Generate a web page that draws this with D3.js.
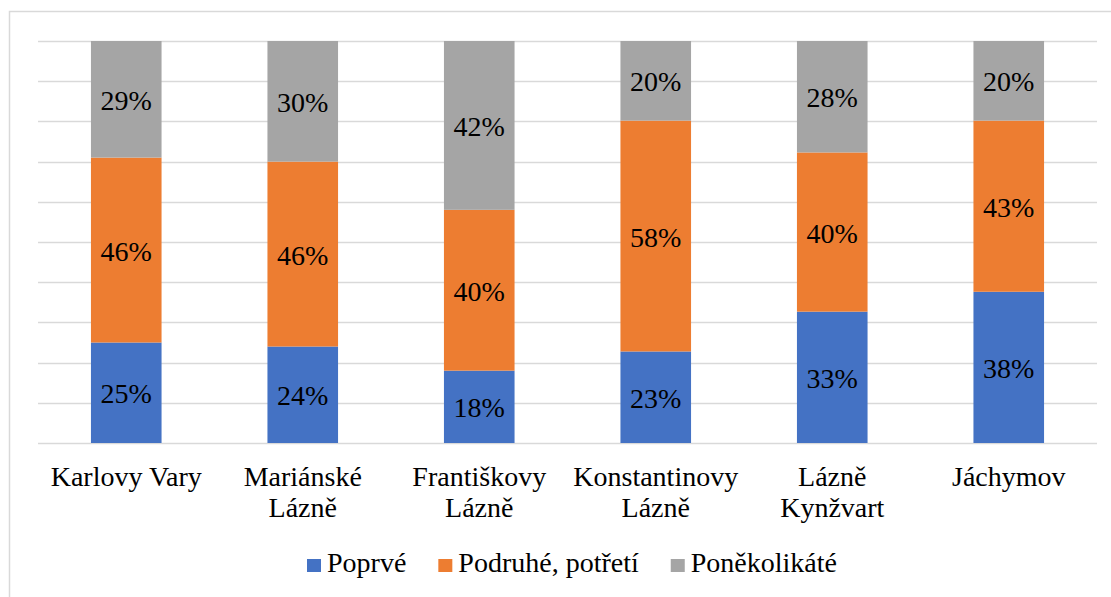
<!DOCTYPE html>
<html>
<head>
<meta charset="utf-8">
<script src="https://cdn.jsdelivr.net/npm/d3@7"></script>
</head>
<body style="margin:0">
<svg id="chart" width="1111" height="597"></svg>
<script>
const categories = ["Karlovy Vary", "Mariánské Lázně", "Františkovy Lázně", "Konstantinovy Lázně", "Lázně Kynžvart", "Jáchymov"];
const series_names = ["Poprvé", "Podruhé, potřetí", "Poněkolikáté"];
const poprve = [25, 24, 18, 23, 33, 38];
const podruhe = [46, 46, 40, 58, 40, 43];
const ponekolikate = [29, 30, 42, 20, 28, 20];
const y_ticks = [0, 0.1, 0.2, 0.3, 0.4, 0.5, 0.6, 0.7, 0.8, 0.9, 1];

const blue_color_code = "#4472C4";
const orange_color_code = "#ED7D31";
const gray_color_code = "#A5A5A5";
const grid_color_code = "#D9D9D9";
const font_name = "'Liberation Serif'";
const font_size = 28;

const svg = d3.select("#chart");
const plot = { left: 38, right: 1097, top: 41, bottom: 443 };

// table built from the named arrays
const rows = categories.map((c, i) => ({
    cat: c,
    "Poprvé": poprve[i],
    "Podruhé, potřetí": podruhe[i],
    "Poněkolikáté": ponekolikate[i],
}));
const stacked = d3.stack().keys(series_names).offset(d3.stackOffsetExpand)(rows);

const x = d3.scaleBand().domain(categories).range([plot.left, plot.right]).paddingInner(0.6).paddingOuter(0.3);
const y = d3.scaleLinear().domain([0, 1]).range([plot.bottom, plot.top]);
const color = d3.scaleOrdinal().domain(series_names).range([blue_color_code, orange_color_code, gray_color_code]);

// chart border
svg.append("rect")
    .attr("x", 9.5).attr("y", 11.5)
    .attr("width", 1110).attr("height", 600)
    .attr("fill", "none")
    .attr("stroke", grid_color_code)
    .attr("stroke-width", 1.5);

// gridlines
svg.append("g")
    .selectAll("line")
    .data(y_ticks)
    .join("line")
    .attr("x1", plot.left)
    .attr("x2", plot.right)
    .attr("y1", (d) => Math.round(y(d)) + 0.5)
    .attr("y2", (d) => Math.round(y(d)) + 0.5)
    .attr("stroke", grid_color_code)
    .attr("stroke-width", 1.5);

// bars
const layer = svg.append("g")
    .selectAll("g")
    .data(stacked)
    .join("g")
    .attr("fill", (d) => color(d.key));

layer.selectAll("rect")
    .data((d) => d)
    .join("rect")
    .attr("x", (d) => x(d.data.cat))
    .attr("y", (d) => y(d[1]))
    .attr("width", x.bandwidth())
    .attr("height", (d) => y(d[0]) - y(d[1]));

// data labels
layer.each(function (s) {
    d3.select(this)
        .selectAll("text")
        .data(s)
        .join("text")
        .attr("x", (d) => x(d.data.cat) + x.bandwidth() / 2)
        .attr("y", (d) => (y(d[0]) + y(d[1])) / 2 + 10.5)
        .attr("text-anchor", "middle")
        .style("font-family", font_name)
        .attr("font-size", font_size)
        .attr("fill", "#000")
        .text((d) => d.data[s.key] + "%");
});

// category labels, long names go on two lines
function labelLines(name) {
    const words = name.split(" ");
    if (words.length > 1 && name.length > 12) {
        return [words.slice(0, -1).join(" "), words[words.length - 1]];
    }
    return [name];
}

const axis_g = svg.append("g");
categories.forEach((c) => {
    const cx = x(c) + x.bandwidth() / 2;
    axis_g.append("text")
        .attr("text-anchor", "middle")
        .style("font-family", font_name)
        .attr("font-size", font_size)
        .attr("fill", "#000")
        .selectAll("tspan")
        .data(labelLines(c))
        .join("tspan")
        .attr("x", cx)
        .attr("y", (d, i) => 486 + i * 31)
        .text((d) => d);
});

// legend
const legend = svg.append("g");
let legend_x = 307;
series_names.forEach((name) => {
    legend.append("rect")
        .attr("x", legend_x)
        .attr("y", 559)
        .attr("width", 14)
        .attr("height", 13)
        .attr("fill", color(name));
    const t = legend.append("text")
        .attr("x", legend_x + 20)
        .attr("y", 572)
        .style("font-family", font_name)
        .attr("font-size", font_size)
        .attr("fill", "#000")
        .text(name);
    legend_x += 20 + t.node().getComputedTextLength() + 32;
});
</script>
</body>
</html>
